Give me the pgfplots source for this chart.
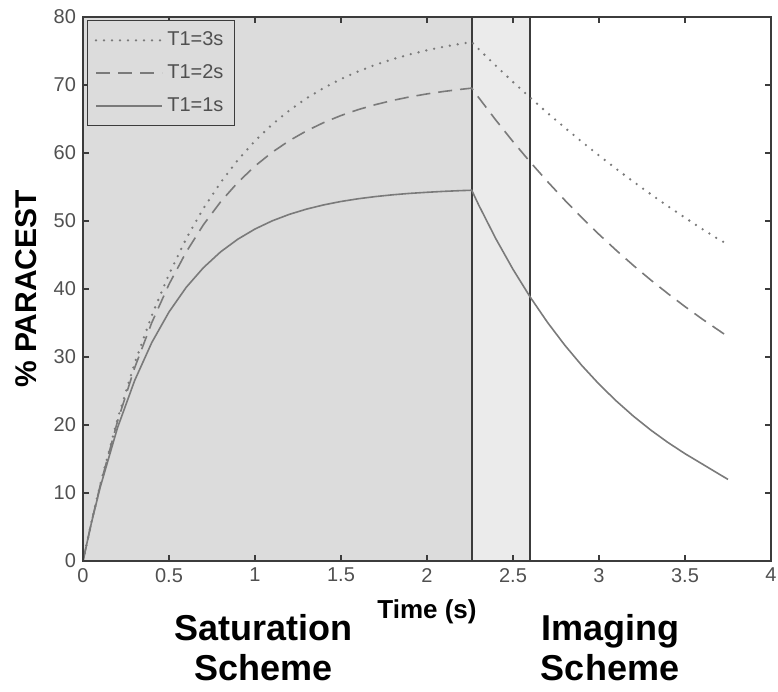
\documentclass[border=0pt]{standalone}
\usepackage{fontspec}
\setmainfont{Liberation Sans}
\usepackage{pgfplots}
\pgfplotsset{compat=1.18}
\usetikzlibrary{calc}
\definecolor{satgray}{HTML}{DCDCDC}
\definecolor{gapgray}{HTML}{EBEBEB}
\definecolor{curvegray}{HTML}{7A7A7A}
\definecolor{framegray}{HTML}{3C3C3C}
\definecolor{labelgray}{HTML}{505050}

\begin{document}
\begin{tikzpicture}
\begin{axis}[
  scale only axis, width=344pt, height=272pt,
  xmin=0, xmax=4, ymin=0, ymax=80,
  xtick={0,0.5,...,4}, ytick={0,10,...,80},
  tick align=inside, major tick length=3pt,
  axis on top, clip mode=individual,
  axis line style={framegray, line width=0.8pt},
  tick style={framegray, line width=0.6pt},
  tick label style={font=\fontsize{10}{10}\selectfont, text=labelgray},
  /pgf/number format/assume math mode=true,
  ylabel={\bfseries\% PARACEST},
  ylabel style={at={(axis description cs:-0.083,0.5)}, anchor=center, font=\fontsize{15}{16}\selectfont},
  legend style={at={(axis description cs:0.006,0.994)}, anchor=north west, fill=satgray, draw=framegray,
    line width=0.6pt, font=\fontsize{10}{10}\selectfont, text=labelgray, row sep=4pt, inner sep=3.5pt},
  legend image code/.code={\draw[#1] (0pt,0pt) -- (33pt,0pt);},
]
% shaded phases
\addplot[fill=satgray, draw=none, forget plot] coordinates {(0,0) (0,80) (2.26,80) (2.26,0)} \closedcycle;
\addplot[fill=gapgray, draw=none, forget plot] coordinates {(2.26,0) (2.26,80) (2.6,80) (2.6,0)} \closedcycle;
\addplot[framegray, line width=0.8pt, forget plot] coordinates {(2.26,0) (2.26,80)};
\addplot[framegray, line width=0.8pt, forget plot] coordinates {(2.6,0) (2.6,80)};

% T1 = 3 s
\addplot[curvegray, line width=1.3pt, line cap=round, dash pattern=on 0pt off 4pt] coordinates {
(0,0) (0.05,5.81) (0.1,11.20) (0.2,20.81) (0.3,29.05) (0.4,36.11) (0.5,42.18) (0.6,47.39)
(0.7,51.85) (0.8,55.67) (0.9,58.96) (1.0,61.78) (1.1,64.20) (1.2,66.27) (1.3,68.05) (1.4,69.57)
(1.5,70.88) (1.6,72.00) (1.7,72.97) (1.8,73.79) (1.9,74.50) (2.0,75.11) (2.1,75.63) (2.2,76.08)
(2.26,76.31) (2.3,75.30) (2.4,72.83) (2.5,70.44) (2.6,68.14) (2.7,65.90) (2.8,63.74) (2.9,61.65)
(3.0,59.63) (3.1,57.67) (3.2,55.78) (3.3,53.95) (3.4,52.19) (3.5,50.48) (3.6,48.82) (3.7,47.22) (3.75,46.6)};
% T1 = 2 s
\addplot[curvegray, line width=0.8pt, dash pattern=on 7pt off 4pt] coordinates {
(0,0) (0.05,5.79) (0.1,11.11) (0.2,20.48) (0.3,28.39) (0.4,35.06) (0.5,40.69) (0.6,45.44)
(0.7,49.44) (0.8,52.82) (0.9,55.67) (1.0,58.08) (1.1,60.11) (1.2,61.82) (1.3,63.26) (1.4,64.48)
(1.5,65.51) (1.6,66.38) (1.7,67.11) (1.8,67.73) (1.9,68.25) (2.0,68.69) (2.1,69.06) (2.2,69.37)
(2.26,69.54) (2.3,68.16) (2.4,64.84) (2.5,61.67) (2.6,58.67) (2.7,55.81) (2.8,53.09) (2.9,50.49)
(3.0,48.03) (3.1,45.69) (3.2,43.46) (3.3,41.34) (3.4,39.33) (3.5,37.41) (3.6,35.58) (3.7,33.85) (3.75,33.0)};
% T1 = 1 s
\addplot[curvegray, line width=0.8pt] coordinates {
(0,0) (0.05,5.72) (0.1,10.84) (0.2,19.54) (0.3,26.52) (0.4,32.13) (0.5,36.62) (0.6,40.24)
(0.7,43.13) (0.8,45.46) (0.9,47.32) (1.0,48.82) (1.1,50.02) (1.2,50.98) (1.3,51.75) (1.4,52.37)
(1.5,52.87) (1.6,53.27) (1.7,53.59) (1.8,53.85) (1.9,54.06) (2.0,54.22) (2.1,54.36) (2.2,54.47)
(2.26,54.52) (2.3,52.38) (2.4,47.40) (2.5,42.89) (2.6,38.81) (2.7,35.11) (2.8,31.77) (2.9,28.75)
(3.0,26.01) (3.1,23.54) (3.2,21.30) (3.3,19.27) (3.4,17.44) (3.5,15.78) (3.6,14.27) (3.7,12.75) (3.75,12.0)};
\legend{T1=3s, T1=2s, T1=1s}
\end{axis}
\node[font=\bfseries\fontsize{13}{14}\selectfont] at ($(current axis.south west)!0.5!(current axis.south east)+(0,-25.5pt)$) {Time (s)};
\node[font=\bfseries\fontsize{18}{20}\selectfont, align=center] at ($(current axis.south west)!0.2625!(current axis.south east)+(0,-43.5pt)$) {Saturation\\Scheme};
\node[font=\bfseries\fontsize{18}{20}\selectfont, align=center] at ($(current axis.south west)!0.766!(current axis.south east)+(0,-43.5pt)$) {Imaging\\Scheme};
\pgfresetboundingbox
\path[use as bounding box] ($(current axis.south west)+(-41.5pt,-65.5pt)$) rectangle ($(current axis.north east)+(3.5pt,8.5pt)$);
\end{tikzpicture}
\end{document}
